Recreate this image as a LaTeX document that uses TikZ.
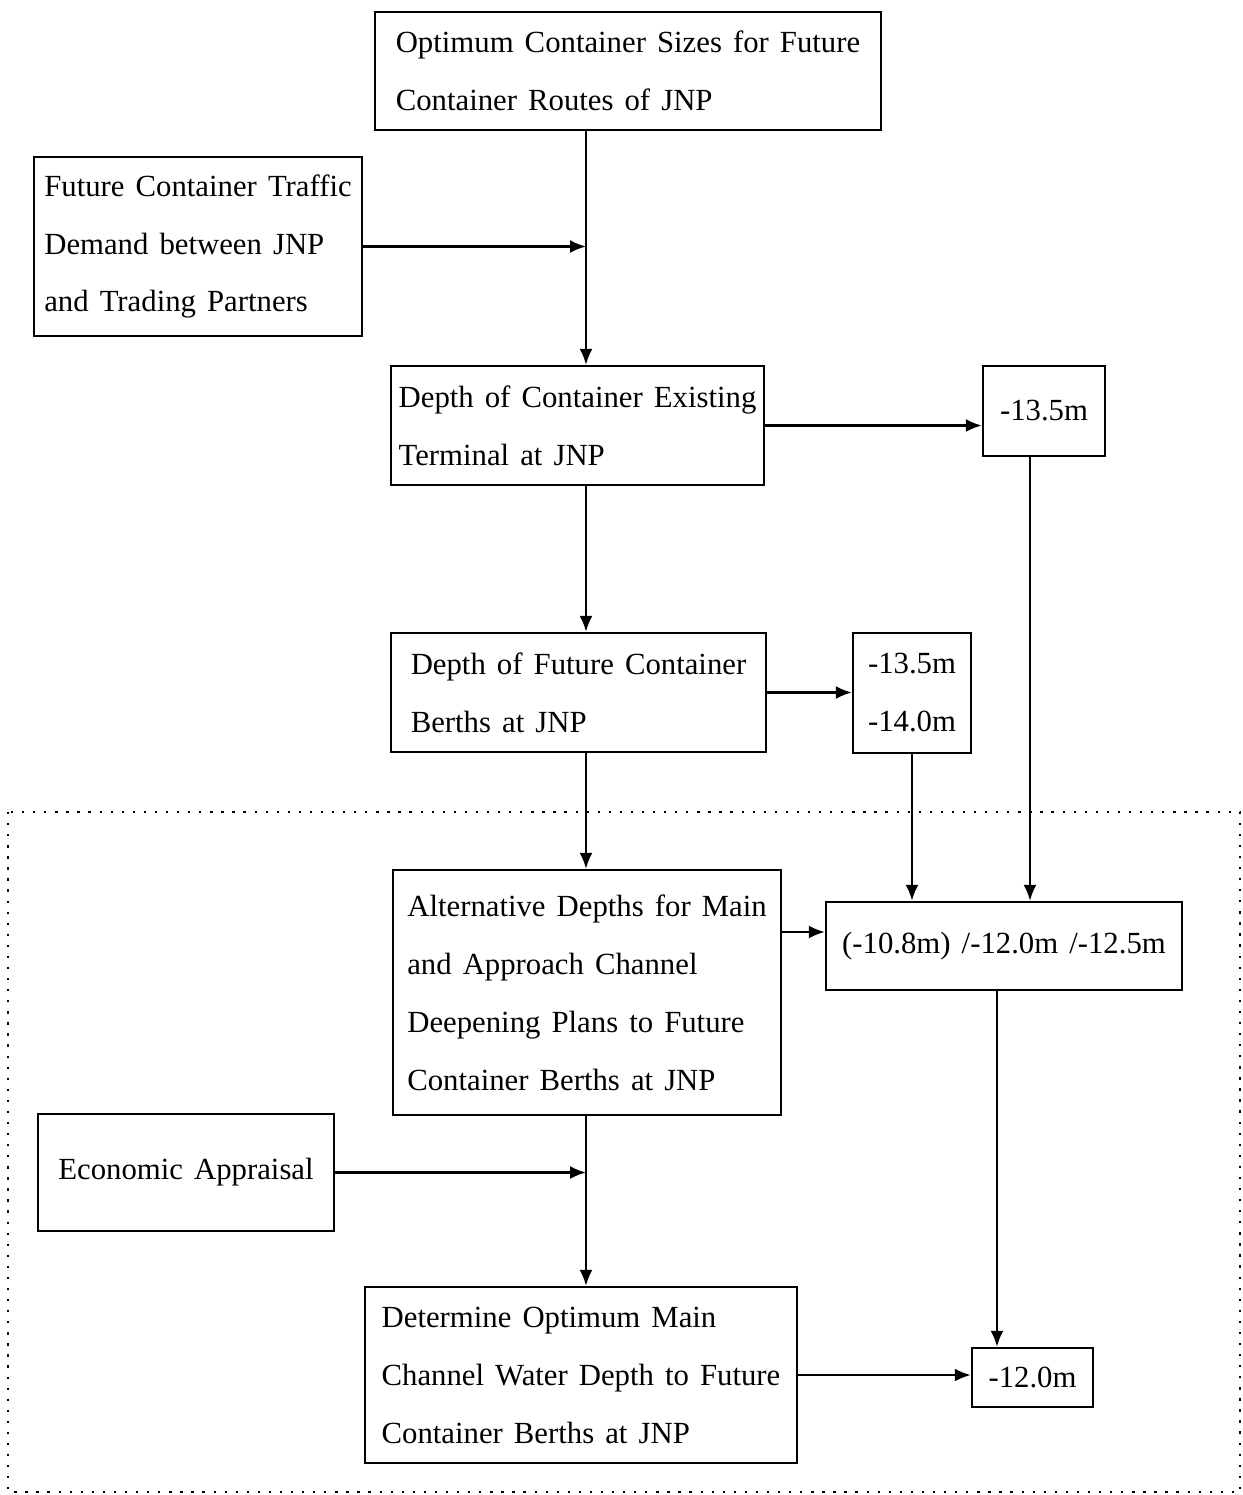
\documentclass[tikz,border=0pt]{standalone}
\usepackage{fontspec}
\setmainfont{Liberation Serif}
\usetikzlibrary{arrows.meta}

\newcommand\blkfont{\fontsize{17.5}{33}\selectfont\spaceskip=0.36em plus 0.1em\relax}
\tikzset{
  blk/.style={draw,line width=1.4pt,align=left,inner sep=0pt,font=\blkfont},
  arr/.style={-{Latex[length=3.2mm,width=2.6mm]},line width=1.2pt},
}

\begin{document}
\begin{tikzpicture}[x=0.02cm,y=-0.02cm]
  \useasboundingbox (0,0) rectangle (1242,1495);
  % dotted frame round the lower part
  \draw[line width=1.3pt,dash pattern=on 1.3pt off 5pt] (8,812) rectangle (1240,1492);
  \coordinate (spine) at (586,0);

  \node[blk,minimum width=10.12cm,minimum height=2.36cm] (sizes) at (628,71)
    {Optimum Container Sizes for Future\\Container Routes of JNP};
  \node[blk,minimum width=6.56cm,minimum height=3.58cm] (traffic) at (198,246.5)
    {Future Container Traffic\\Demand between JNP\\and Trading Partners};
  \node[blk,minimum width=7.46cm,minimum height=2.38cm] (exist) at (577.5,425.5)
    {Depth of Container Existing\\Terminal at JNP};
  \node[blk,minimum width=2.44cm,minimum height=1.8cm] (mA) at (1044,411) {-13.5m};
  \node[blk,minimum width=7.5cm,minimum height=2.38cm] (future) at (578.5,692.5)
    {Depth of Future Container\\Berths at JNP};
  \node[blk,minimum width=2.36cm,minimum height=2.4cm] (mB) at (912,693) {-13.5m\\-14.0m};
  \node[blk,minimum width=7.76cm,minimum height=4.9cm] (alt) at (587,992.5)
    {Alternative Depths for Main\\and Approach Channel\\Deepening Plans to Future\\Container Berths at JNP};
  \node[blk,minimum width=7.12cm,minimum height=1.76cm] (mC) at (1004,946)
    {(-10.8m) /-12.0m /-12.5m};
  \node[blk,minimum width=5.92cm,minimum height=2.34cm] (econ) at (186,1172.5)
    {Economic Appraisal};
  \node[blk,minimum width=8.64cm,minimum height=3.52cm] (det) at (581,1375)
    {Determine Optimum Main\\Channel Water Depth to Future\\Container Berths at JNP};
  \node[blk,minimum width=2.42cm,minimum height=1.18cm] (mD) at (1032.5,1377.5) {-12.0m};

  % main line down the middle
  \draw[arr] (sizes.south -| spine) -- (spine |- exist.north);
  \draw[arr] (traffic.east) -- (traffic.east -| spine);
  \draw[arr] (spine |- exist.south) -- (spine |- future.north);
  \draw[arr] (spine |- future.south) -- (spine |- alt.north);
  \draw[arr] (spine |- alt.south) -- (spine |- det.north);
  \draw[arr] (econ.east) -- (econ.east -| spine);

  % depths on the right
  \draw[arr] (exist.east) -- (exist.east -| mA.west);
  \draw[arr] (future.east) -- (future.east -| mB.west);
  \draw[arr] (mB.south) -- (mB.south |- mC.north);
  \draw[arr] ([xshift=-0.28cm]mA.south) -- ([xshift=-0.28cm]mA.south |- mC.north);
  \coordinate (cin) at ([yshift=0.28cm]mC.west);
  \draw[arr] (cin -| alt.east) -- (cin);
  \draw[arr] ([xshift=-0.14cm]mC.south) -- ([xshift=-0.14cm]mC.south |- mD.north);
  \draw[arr] (det.east) -- (det.east -| mD.west);
\end{tikzpicture}
\end{document}
